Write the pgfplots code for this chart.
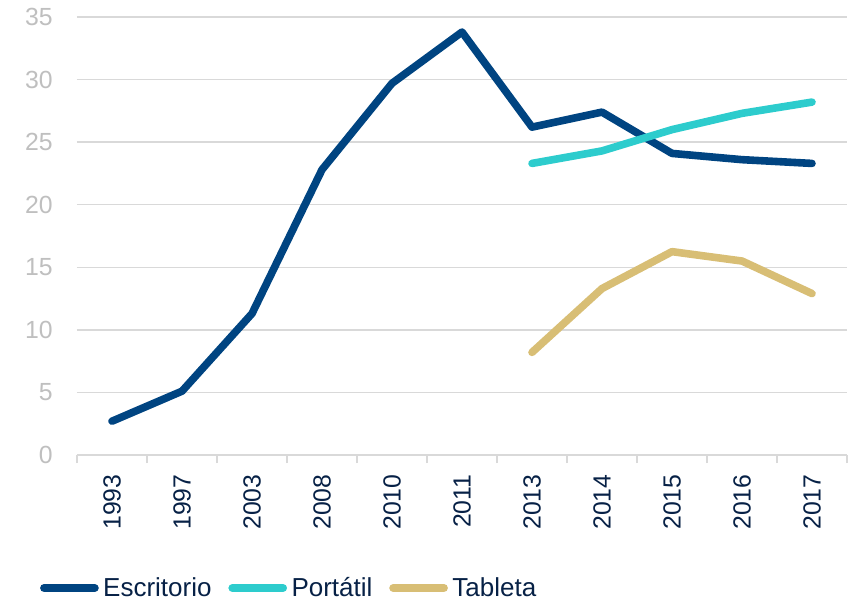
\documentclass[border=0pt]{standalone}
\usepackage{fontspec}
\setmainfont{Liberation Sans}
\usepackage{pgfplots}
\pgfplotsset{compat=1.18}
\definecolor{cEsc}{HTML}{004481}
\definecolor{cPor}{HTML}{2DCCCD}
\definecolor{cTab}{HTML}{D8BE75}
\definecolor{cTxt}{HTML}{072146}
\definecolor{cYl}{HTML}{BFBFBF}
\definecolor{cGrid}{HTML}{D9D9D9}
\begin{document}
\begin{tikzpicture}
\begin{axis}[
  name=ax,
  scale only axis,
  width=577.5pt, height=328.5pt,
  xmin=-0.5, xmax=10.5, ymin=0, ymax=35,
  font=\fontsize{18.6}{22}\selectfont,
  /pgf/number format/assume math mode=true,
  axis x line*=bottom,
  axis y line*=left,
  y axis line style={draw=none},
  x axis line style={draw=cGrid, line width=1.1pt},
  xtick={0,...,10},
  xticklabels={1993,1997,2003,2008,2010,2011,2013,2014,2015,2016,2017},
  minor xtick={-0.5,0.5,...,10.5},
  xtick align=outside,
  major x tick style={draw=none},
  minor x tick style={draw=cGrid, line width=1.1pt},
  minor tick length=6pt,
  major tick length=0pt,
  xticklabel style={rotate=90, anchor=east, inner sep=0pt, text=cTxt},
  xticklabel shift=14.5pt,
  ytick={0,5,...,35},
  ytick style={draw=none},
  yticklabel style={anchor=east, inner sep=0pt, xshift=-18pt, text=cYl},
  ymajorgrids,
  major grid style={draw=cGrid, line width=1.1pt},
  legend columns=3,
  legend style={at={(axis description cs:-0.0532,-0.3037)}, anchor=west,
    draw=none, fill=none, inner sep=0pt, text=cTxt,
    font=\fontsize{19.5}{23}\selectfont,
    nodes={inner sep=0pt},
    /tikz/every even column/.append style={column sep=9.75pt}},
  legend cell align=left,
  legend image code/.code={\path (0pt,0pt) (44.5pt,0pt); \draw[#1, line width=6pt, line cap=round] (3pt,0pt) -- (41pt,0pt);},
  every axis plot/.append style={line width=5.7pt, line join=round, line cap=round, mark=none},
]
\addplot[cEsc] coordinates {(0,2.7) (1,5.1) (2,11.3) (3,22.8) (4,29.7) (5,33.8) (6,26.2) (7,27.4) (8,24.1) (9,23.6) (10,23.3)};
\addlegendentry{Escritorio}
\addplot[cPor] coordinates {(6,23.3) (7,24.3) (8,26.0) (9,27.3) (10,28.2)};
\addlegendentry{Portátil}
\addplot[cTab] coordinates {(6,8.2) (7,13.3) (8,16.25) (9,15.5) (10,12.9)};
\addlegendentry{Tableta}
\end{axis}
\path ([shift={(-57.75pt,-111.75pt)}]ax.south west) rectangle ([shift={(5.25pt,12.75pt)}]ax.north east);
\end{tikzpicture}
\end{document}
